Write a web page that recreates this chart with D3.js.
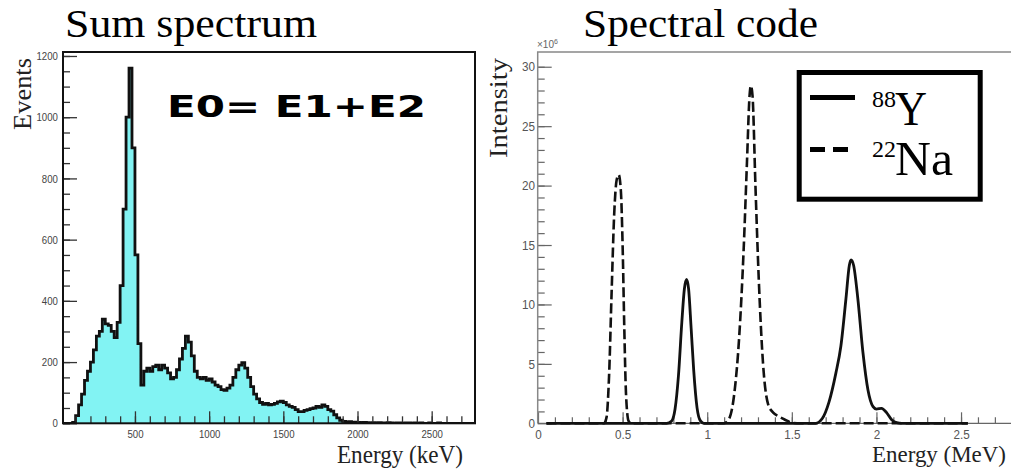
<!DOCTYPE html>
<meta charset="utf-8">
<style>
body{margin:0;background:#fff;}
svg{display:block;}
.tl{font-family:"Liberation Sans",Arial,sans-serif;}
.serif{font-family:"Liberation Serif","Times New Roman",serif;}
</style>
<body>
<script src="https://cdn.jsdelivr.net/npm/d3@7/dist/d3.min.js"></script>
<script>

// ---- sum spectrum (left), 20 keV bins starting at 20 keV
var sumStart = 20, sumWidth = 20;
var sumCounts = [
  0,0,0,3,25,60,95,140,170,200,240,285,300,340,325,320,300,280,330,450,
  700,1000,1160,900,550,260,125,170,180,170,185,190,175,190,180,165,145,150,175,210,
  245,285,265,220,170,150,145,150,140,145,135,125,120,110,108,115,125,150,175,190,
  198,180,150,120,95,80,68,62,65,60,62,65,70,72,68,60,55,52,45,38,
  38,42,45,48,50,55,52,60,55,45,40,28,18,10,6,4,5,3,4,3,
  2,3,2,1,2,1,2,1,1,2,1,0,1,1,0,1,1,0,1,0,
  1,0,0,1,0,0,1,0,0,0,0,0,0,0,0,0,0,0,0
];
var sumTicksX = [500,1000,1500,2000,2500];
var sumTicksY = [0,200,400,600,800,1000,1200];

// ---- spectral code (right)
var yEnergy =    [0.05,0.76,0.79,0.81,0.83,0.85,0.865,0.878,0.89,0.905,0.92,0.94,0.96,0.98,
                  1.64,1.68,1.72,1.76,1.79,1.82,1.84,1.85,1.865,1.89,1.92,1.95,1.98,2.0,2.03,2.06,2.09,2.12,2.15,2.54];
var yIntensity = [0,0,0.2,1.2,4.0,8.5,11.3,12.1,11.3,8.0,4.5,1.3,0.2,0,
                  0,0.4,1.8,4.2,6.5,10.5,13.3,13.75,13.3,10.5,6.0,2.8,1.4,1.2,1.25,0.9,0.3,0.05,0,0];
var naEnergy =    [0.05,0.39,0.405,0.42,0.435,0.45,0.465,0.477,0.49,0.5,0.51,0.52,0.535,0.55,
                   1.10,1.13,1.16,1.19,1.215,1.235,1.25,1.258,1.268,1.285,1.305,1.33,1.36,1.39,1.42,1.46,1.5,1.55,2.54];
var naIntensity = [0,0,0.5,4,11,17.5,20.5,20.9,19.5,15,8,2.5,0.2,0,
                   0,0.4,2.5,7.5,14.5,22,27.5,28.4,27.5,20,12,5.0,1.6,0.9,0.6,0.3,0.05,0,0];
var specTicksX = [0,0.5,1,1.5,2,2.5];
var specTicksY = [0,5,10,15,20,25,30];

var svg = d3.select("body").append("svg").attr("width",1011).attr("height",471);

// ================= left panel =================
var xL = d3.scaleLinear().domain([15,2792]).range([63,475]);
var yL = d3.scaleLinear().domain([0,1213]).range([423.3,52]);

svg.append("clipPath").attr("id","clipL").append("rect")
  .attr("x",63).attr("y",40).attr("width",412).attr("height",384);

var bins = sumCounts.map(function(v,i){ return {e: sumStart + i*sumWidth, v: v}; });
bins.push({e: sumStart + sumCounts.length*sumWidth, v: sumCounts[sumCounts.length-1]});

var gL = svg.append("g").attr("clip-path","url(#clipL)");
gL.append("path").datum(bins)
  .attr("fill","#82f3f3")
  .attr("d", d3.area().curve(d3.curveStepAfter).x(d=>xL(d.e)).y0(yL(0)).y1(d=>yL(d.v)));
gL.append("path").datum(bins)
  .attr("fill","none").attr("stroke","#111").attr("stroke-width",2.8)
  .attr("d", d3.line().curve(d3.curveStepAfter).x(d=>xL(d.e)).y(d=>yL(d.v)));

// ticks
var axL = svg.append("g").attr("class","tl");
axL.append("g").attr("transform","translate(0,423.3)")
  .call(d3.axisBottom(xL).tickValues(d3.range(100,2800,100)).tickSize(-7).tickFormat(""));
axL.append("g").attr("transform","translate(0,423.3)")
  .call(d3.axisBottom(xL).tickValues(sumTicksX).tickSize(-12).tickPadding(7).tickFormat(d3.format("d")));
axL.append("g").attr("transform","translate(63,0)")
  .call(d3.axisLeft(yL).tickValues(d3.range(0,1213,50)).tickSize(-7).tickFormat(""));
axL.append("g").attr("transform","translate(63,0)")
  .call(d3.axisLeft(yL).tickValues(sumTicksY).tickSize(-14).tickPadding(6).tickFormat(d3.format("d")));
axL.selectAll(".domain").remove();
axL.selectAll(".tick line").attr("stroke","#333").attr("stroke-width",1.3);
axL.selectAll(".tick text").attr("fill","#444").style("font-size","11.5px")
  .attr("transform","scale(0.84,1)");

svg.append("rect").attr("x",63).attr("y",52).attr("width",412).attr("height",371.3)
  .attr("fill","none").attr("stroke","#111").attr("stroke-width",2);

svg.append("text").attr("class","serif").attr("x",65).attr("y",37)
  .attr("textLength",252).attr("lengthAdjust","spacingAndGlyphs")
  .style("font-size","40px").text("Sum spectrum");
svg.append("text").attr("class","serif").attr("x",337).attr("y",463)
  .attr("textLength",126).attr("lengthAdjust","spacingAndGlyphs")
  .style("font-size","25px").attr("fill","#222").text("Energy (keV)");
svg.append("text").attr("class","serif").attr("transform","translate(31,130) rotate(-90)")
  .attr("textLength",72).attr("lengthAdjust","spacingAndGlyphs")
  .style("font-size","26px").attr("fill","#222").text("Events");
svg.append("text").attr("x",167).attr("y",117)
  .attr("textLength",259).attr("lengthAdjust","spacingAndGlyphs")
  .style("font-family","'DejaVu Sans',sans-serif").style("font-weight","bold")
  .style("font-size","30px").text("E0= E1+E2");

// ================= right panel =================
var xR = d3.scaleLinear().domain([0,2.8]).range([538,1011.8]);
var yR = d3.scaleLinear().domain([0,31.24]).range([423.3,52]);

var axR = svg.append("g").attr("class","tl");
axR.append("g").attr("transform","translate(0,423.3)")
  .call(d3.axisBottom(xR).tickValues(d3.range(0.1,2.8,0.1)).tickSize(-6).tickFormat(""));
axR.append("g").attr("transform","translate(0,423.3)")
  .call(d3.axisBottom(xR).tickValues(specTicksX).tickSize(-11).tickPadding(6).tickFormat(d3.format("~g")));
axR.append("g").attr("transform","translate(537.7,0)")
  .call(d3.axisLeft(yR).tickValues(d3.range(1,31,1)).tickSize(-7).tickFormat(""));
axR.append("g").attr("transform","translate(537.7,0)")
  .call(d3.axisLeft(yR).tickValues(specTicksY).tickSize(-14).tickPadding(3).tickFormat(d3.format("d")));
axR.selectAll(".domain").remove();
axR.selectAll(".tick line").attr("stroke","#666").attr("stroke-width",1.2);
axR.selectAll(".tick text").attr("fill","#555").style("font-size","13px")
  .attr("transform","scale(0.9,1)");

svg.append("path").attr("d","M537.7,423.3V52H1011").attr("fill","none").attr("stroke","#888").attr("stroke-width",1.5);
svg.append("path").attr("d","M537.7,423.3H1011").attr("fill","none").attr("stroke","#666").attr("stroke-width",1.3);

var lineR = d3.line().curve(d3.curveMonotoneX).x(d=>xR(d[0])).y(d=>yR(d[1]));
svg.append("path").datum(naEnergy.map((e,i)=>[e,naIntensity[i]]))
  .attr("fill","none").attr("stroke","#111").attr("stroke-width",2.6)
  .attr("stroke-dasharray","10,4").attr("d",lineR);
svg.append("path").datum(yEnergy.map((e,i)=>[e,yIntensity[i]]))
  .attr("fill","none").attr("stroke","#111").attr("stroke-width",2.8).attr("d",lineR);

var mult = svg.append("text").attr("class","tl").attr("x",537).attr("y",48)
  .attr("fill","#666").style("font-size","10px").text("\u00d710");
mult.append("tspan").attr("dy",-4).style("font-size","7px").text("6");

svg.append("text").attr("class","serif").attr("x",583).attr("y",37)
  .attr("textLength",235).attr("lengthAdjust","spacingAndGlyphs")
  .style("font-size","40px").text("Spectral code");
svg.append("text").attr("class","serif").attr("x",872).attr("y",462)
  .attr("textLength",134).attr("lengthAdjust","spacingAndGlyphs")
  .style("font-size","24px").attr("fill","#222").text("Energy (MeV)");
svg.append("text").attr("class","serif").attr("transform","translate(507,158) rotate(-90)")
  .attr("textLength",100).attr("lengthAdjust","spacingAndGlyphs")
  .style("font-size","26px").attr("fill","#222").text("Intensity");

// legend
var leg = svg.append("g");
leg.append("rect").attr("x",799.2).attr("y",72.5).attr("width",181).attr("height",126.7)
  .attr("fill","#fff").attr("stroke","#000").attr("stroke-width",5);
leg.append("line").attr("x1",810).attr("x2",855).attr("y1",97.5).attr("y2",97.5)
  .attr("stroke","#000").attr("stroke-width",5);
leg.append("line").attr("x1",810).attr("x2",855).attr("y1",149.5).attr("y2",149.5)
  .attr("stroke","#000").attr("stroke-width",5).attr("stroke-dasharray","15,8");
leg.append("text").attr("class","serif").attr("x",872).attr("y",107).style("font-size","24px").text("88");
leg.append("text").attr("class","serif").attr("x",895).attr("y",125)
  .attr("textLength",32).attr("lengthAdjust","spacingAndGlyphs").style("font-size","48px").text("Y");
leg.append("text").attr("class","serif").attr("x",872).attr("y",157).style("font-size","24px").text("22");
leg.append("text").attr("class","serif").attr("x",895).attr("y",175)
  .attr("textLength",58).attr("lengthAdjust","spacingAndGlyphs").style("font-size","48px").text("Na");

</script>
</body>
